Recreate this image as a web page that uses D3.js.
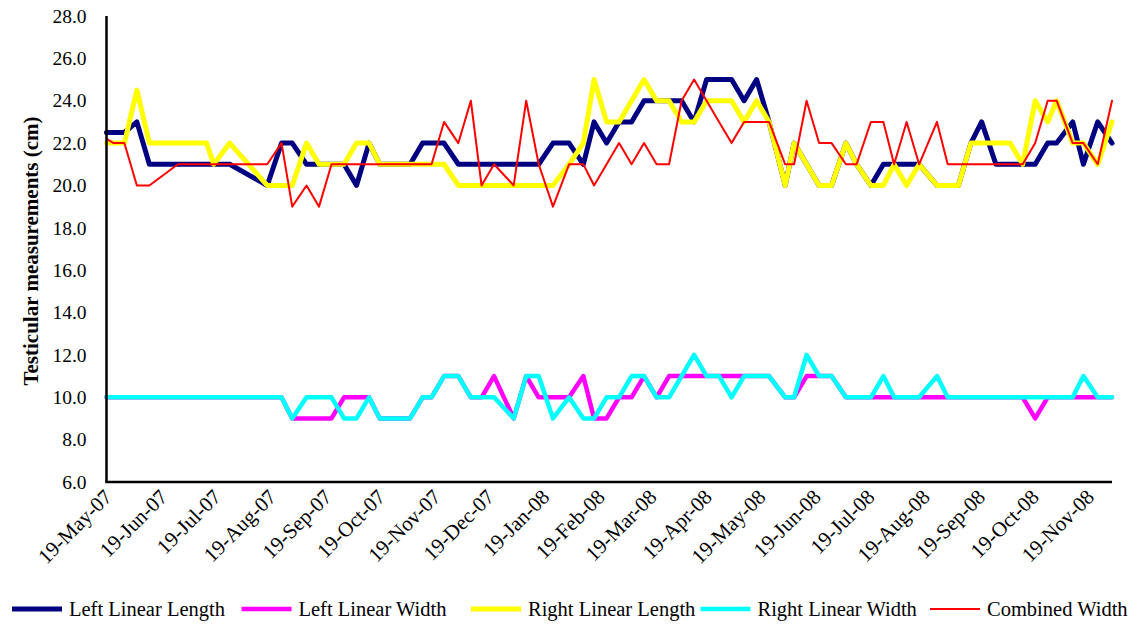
<!DOCTYPE html>
<html>
<head>
<meta charset="utf-8">
<script src="https://cdn.jsdelivr.net/npm/d3@7"></script>
<style>
  html, body { margin: 0; padding: 0; background: #ffffff; }
  svg { display: block; font-family: "Liberation Serif", "Times New Roman", serif; }
</style>
</head>
<body>
<svg id="chart" width="1142" height="626"></svg>
<script>
// Sampling dates (roughly weekly)
const sampleDates = [
  "2007-05-19","2007-05-23","2007-05-29","2007-06-05","2007-06-12","2007-06-28","2007-07-14","2007-07-18","2007-07-27","2007-08-17",
  "2007-08-25","2007-08-31","2007-09-08","2007-09-15","2007-09-22","2007-09-29","2007-10-06","2007-10-13","2007-10-19","2007-11-05",
  "2007-11-12","2007-11-17","2007-11-24","2007-12-02","2007-12-09","2007-12-15","2007-12-22","2008-01-02","2008-01-09","2008-01-16",
  "2008-01-24","2008-02-02","2008-02-10","2008-02-16","2008-02-23","2008-03-01","2008-03-08","2008-03-15","2008-03-22","2008-03-29",
  "2008-04-05","2008-04-12","2008-04-19","2008-04-26","2008-05-03","2008-05-10","2008-05-17","2008-05-24","2008-06-02","2008-06-07",
  "2008-06-14","2008-06-21","2008-06-28","2008-07-06","2008-07-12","2008-07-20","2008-07-27","2008-08-02","2008-08-09","2008-08-16",
  "2008-08-26","2008-09-01","2008-09-07","2008-09-14","2008-09-20","2008-09-28","2008-10-06","2008-10-13","2008-10-20","2008-10-27",
  "2008-11-01","2008-11-10","2008-11-16","2008-11-24","2008-12-02"
];

// Measurements (cm)
const leftLinearLength = [
  22.5,22.5,22.5,23,21,21,21,21,21,20,
  22,22,21,21,21,21,20,22,21,21,
  22,22,22,21,21,21,21,21,21,21,
  22,22,21,23,22,23,23,24,24,24,
  24,23,25,25,25,24,25,23,20,22,
  21,20,20,22,21,20,21,21,21,21,
  20,20,20,22,23,21,21,21,21,22,
  22,23,21,23,22
];
const leftLinearWidth = [
  10,10,10,10,10,10,10,10,10,10,
  10,9,9,9,9,10,10,10,9,9,
  10,10,11,11,10,10,11,9,11,10,
  10,10,11,9,9,10,10,11,10,11,
  11,11,11,11,11,11,11,11,10,10,
  11,11,11,10,10,10,10,10,10,10,
  10,10,10,10,10,10,10,10,9,10,
  10,10,10,10,10
];
const rightLinearLength = [
  22,22,22,24.5,22,22,22,21,22,20,
  20,20,22,21,21,21,22,22,21,21,
  21,21,21,20,20,20,20,20,20,20,
  20,21,22,25,23,23,24,25,24,24,
  23,23,24,24,24,23,24,23,20,22,
  21,20,20,22,21,20,20,21,20,21,
  20,20,20,22,22,22,22,21,24,23,
  24,22,22,21,23
];
const rightLinearWidth = [
  10,10,10,10,10,10,10,10,10,10,
  10,9,10,10,10,9,9,10,9,9,
  10,10,11,11,10,10,10,9,11,11,
  9,10,9,9,10,10,11,11,10,10,
  11,12,11,11,10,11,11,11,10,10,
  12,11,11,10,10,10,11,10,10,10,
  11,10,10,10,10,10,10,10,10,10,
  10,10,11,10,10
];
const combinedWidth = [
  22.2,22,22,20,20,21,21,21,21,21,
  22,19,20,19,21,21,21,21,21,21,
  21,21,23,22,24,20,21,20,24,21,
  19,21,21,20,21,22,21,22,21,21,
  24,25,24,23,22,23,23,23,21,21,
  24,22,22,21,21,23,23,21,23,21,
  23,21,21,21,21,21,21,21,22,24,
  24,22,22,21,24
];

const seriesNames = ["Left Linear Length", "Left Linear Width", "Right Linear Length", "Right Linear Width", "Combined Width"];
const xTickLabels = [
  "19-May-07","19-Jun-07","19-Jul-07","19-Aug-07","19-Sep-07","19-Oct-07","19-Nov-07","19-Dec-07","19-Jan-08","19-Feb-08",
  "19-Mar-08","19-Apr-08","19-May-08","19-Jun-08","19-Jul-08","19-Aug-08","19-Sep-08","19-Oct-08","19-Nov-08"
];
const yTickValues = [6, 8, 10, 12, 14, 16, 18, 20, 22, 24, 26, 28];
const yTitle = "Testicular measurements (cm)";

// Styling per series (drawing order follows the list)
const seriesStyle = [
  { color: "#000080", width: 5 },
  { color: "#FF00FF", width: 4.5 },
  { color: "#FFFF00", width: 5 },
  { color: "#00FFFF", width: 4.5 },
  { color: "#FF0000", width: 2 }
];

const serif = "Liberation Serif, Times New Roman, serif";
const parseISO = d3.timeParse("%Y-%m-%d");
const parseTick = d3.timeParse("%d-%b-%y");
const fmtTick = d3.timeFormat("%d-%b-%y");
const dates = sampleDates.map(parseISO);
const seriesValues = [leftLinearLength, leftLinearWidth, rightLinearLength, rightLinearWidth, combinedWidth];

const plot = { left: 106.5, right: 1112, top: 16, bottom: 482 };
const svg = d3.select("#chart");

const x = d3.scaleTime()
  .domain([dates[0], dates[dates.length - 1]])
  .range([plot.left, plot.right]);
const y = d3.scaleLinear()
  .domain([6, 28])
  .range([plot.bottom, plot.top]);

// Y axis labels
const yAxis = d3.axisLeft(y).tickValues(yTickValues).tickFormat(d3.format(".1f")).tickSize(0).tickPadding(20);
const yg = svg.append("g").attr("transform", `translate(${plot.left},0)`).call(yAxis);
yg.select(".domain").remove();
yg.selectAll("text").attr("font-family", serif).attr("font-size", 19.5).attr("fill", "#000");

// X axis labels (rotated)
const xAxis = d3.axisBottom(x).tickValues(xTickLabels.map(parseTick)).tickFormat(fmtTick).tickSize(0);
const xg = svg.append("g").attr("transform", `translate(0,${plot.bottom})`).call(xAxis);
xg.select(".domain").remove();
xg.selectAll("text")
  .attr("font-family", serif)
  .attr("font-size", 21)
  .attr("fill", "#000")
  .attr("text-anchor", "end")
  .attr("dy", "0.35em")
  .attr("transform", "translate(1,11) rotate(-45)")
  .attr("y", 0).attr("x", 0);

// Series lines
const line = d3.line()
  .x((d, i) => x(dates[i]))
  .y(d => y(d));
seriesValues.forEach((vals, k) => {
  svg.append("path")
    .datum(vals)
    .attr("fill", "none")
    .attr("stroke", seriesStyle[k].color)
    .attr("stroke-width", seriesStyle[k].width)
    .attr("stroke-linejoin", "round")
    .attr("stroke-linecap", "round")
    .attr("d", line);
});

// Axis lines
svg.append("line").attr("x1", plot.left).attr("x2", plot.left).attr("y1", plot.top).attr("y2", plot.bottom)
  .attr("stroke", "#000").attr("stroke-width", 2.5);
svg.append("line").attr("x1", plot.left - 1.25).attr("x2", plot.right).attr("y1", plot.bottom).attr("y2", plot.bottom)
  .attr("stroke", "#000").attr("stroke-width", 2.5);

// Y axis title
svg.append("text")
  .attr("transform", `translate(38,251) rotate(-90)`)
  .attr("text-anchor", "middle")
  .attr("font-family", serif)
  .attr("font-size", 21)
  .attr("font-weight", "bold")
  .attr("fill", "#000")
  .text(yTitle);

// Legend
const legend = svg.append("g").attr("transform", "translate(12,609)");
const legendStep = 229.5;
seriesNames.forEach((name, k) => {
  const g = legend.append("g").attr("transform", `translate(${k * legendStep},0)`);
  g.append("line").attr("x1", 0).attr("x2", 50).attr("y1", 0).attr("y2", 0)
    .attr("stroke", seriesStyle[k].color).attr("stroke-width", seriesStyle[k].width);
  g.append("text").attr("x", 57).attr("y", 0).attr("dy", "0.35em")
    .attr("font-family", serif)
    .attr("font-size", 20.5).attr("fill", "#000").text(name);
});
</script>
</body>
</html>
